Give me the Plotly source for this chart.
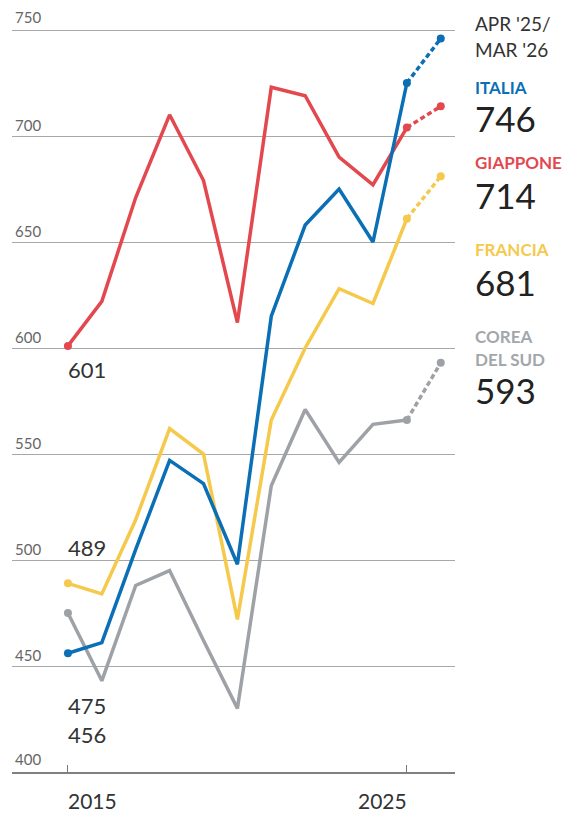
import plotly.graph_objects as go

years = list(range(2015, 2026))
forecast_x = 2026  # APR '25 / MAR '26

italia = [456, 461, 505, 547, 536, 498, 615, 658, 675, 650, 725]
giappone = [601, 622, 671, 710, 679, 612, 723, 719, 690, 677, 704]
francia = [489, 484, 519, 562, 550, 472, 566, 600, 628, 621, 661]
corea = [475, 443, 488, 495, 462, 430, 535, 571, 546, 564, 566]

forecast = {"ITALIA": 746, "GIAPPONE": 714, "FRANCIA": 681, "COREA": 593}

y_ticks = [400, 450, 500, 550, 600, 650, 700, 750]
x_ticks = [2015, 2025]
x_tick_labels = ["2015", "2025"]

series = [
    ("COREA", corea, "#9ea2a6"),
    ("FRANCIA", francia, "#f5c94c"),
    ("GIAPPONE", giappone, "#e3484f"),
    ("ITALIA", italia, "#0b6fb6"),
]

FONT = "Lato"
OFF = 8  # page body margin
W, H = 577 - OFF, 814 - OFF
PL, PR, PT, PB = 12, 455, 26, 772  # plot area in page pixels
ML, MT = PL - OFF, PT - OFF
MR, MB = W - (PR - OFF), H - (PB - OFF)


def py2paper(py):
    return (PB - py) / (PB - PT)


def px2paper(px):
    return (px - PL) / (PR - PL)


fig = go.Figure()

for name, vals, col in series:
    fig.add_trace(go.Scatter(
        x=years, y=vals, mode="lines",
        line=dict(color=col, width=3.5), hoverinfo="skip", showlegend=False,
        cliponaxis=False))
    fig.add_trace(go.Scatter(
        x=[years[-1], forecast_x], y=[vals[-1], forecast[name]], mode="lines",
        line=dict(color=col, width=3.5, dash="5px,3px"), showlegend=False,
        cliponaxis=False))
    fig.add_trace(go.Scatter(
        x=[years[0], years[-1], forecast_x], y=[vals[0], vals[-1], forecast[name]],
        mode="markers", marker=dict(color=col, size=8), showlegend=False,
        cliponaxis=False))

# start value labels
start_labels = [(giappone[0], 369.5), (francia[0], 547.5), (corea[0], 705.5), (italia[0], 734.5)]
for v, py in start_labels:
    fig.add_annotation(x=years[0], xref="x", y=py2paper(py), yref="paper",
                       text=str(v), showarrow=False, xanchor="left", yanchor="middle",
                       xshift=-2, font=dict(family=FONT, size=22, color="#333333"))

# year labels
for xv, lab in zip(x_ticks, x_tick_labels):
    fig.add_annotation(x=xv, xref="x", y=py2paper(801), yref="paper", text=lab, showarrow=False,
                       xanchor="left" if xv == 2015 else "right", yanchor="middle",
                       xshift=-2 if xv == 2015 else 2,
                       font=dict(family=FONT, size=21, color="#333333"))

# right side labels
xp = px2paper(473)
right = [
    ("APR '25/", 24, 19, "#333333", False),
    ("MAR '26", 49.5, 19, "#333333", False),
    ("ITALIA", 87, 17, "#0b6fb6", True),
    (str(forecast["ITALIA"]), 118, 35, "#222222", False),
    ("GIAPPONE", 162, 17, "#e3484f", True),
    (str(forecast["GIAPPONE"]), 194.5, 35, "#222222", False),
    ("FRANCIA", 250, 17, "#f5c94c", True),
    (str(forecast["FRANCIA"]), 282.5, 35, "#222222", False),
    ("COREA", 336.5, 17, "#a3a7ab", True),
    ("DEL SUD", 359, 17, "#a3a7ab", True),
    (str(forecast["COREA"]), 389.5, 35, "#222222", False),
]
for txt, py, fs, col, bold in right:
    fig.add_annotation(x=xp, xref="paper", y=py2paper(py), yref="paper",
                       text=f"<b>{txt}</b>" if bold else txt, showarrow=False,
                       xanchor="left", yanchor="middle",
                       font=dict(family=FONT, size=fs, color=col))

fig.update_layout(
    width=W, height=H,
    margin=dict(l=ML, r=MR, t=MT, b=MB),
    plot_bgcolor="white", paper_bgcolor="white",
    showlegend=False,
    xaxis=dict(range=[2013.35, 2026.42], tickvals=x_ticks, showticklabels=False,
               ticks="inside", ticklen=7, tickcolor="#777777", tickwidth=1.2,
               showgrid=False, zeroline=False, showline=True, linecolor="#808080",
               linewidth=2),
    yaxis=dict(range=[400, 400 + (PB - PT) / 2.12], tickvals=y_ticks[1:],
               ticktext=[str(t) for t in y_ticks[1:]],
               ticklabelposition="inside top", ticks="", showgrid=True,
               gridcolor="#a8a8a8", gridwidth=1.4, zeroline=False, showline=False,
               tickfont=dict(family=FONT, size=15, color="#666666")),
)
for yv in (y_ticks[0], y_ticks[-1]):
    fig.add_annotation(x=0, xref="paper", y=yv, yref="y", text=str(yv), showarrow=False,
                       xanchor="left", yanchor="bottom", yshift=2, xshift=1,
                       font=dict(family=FONT, size=15, color="#666666"))

fig.write_html("out.html")
